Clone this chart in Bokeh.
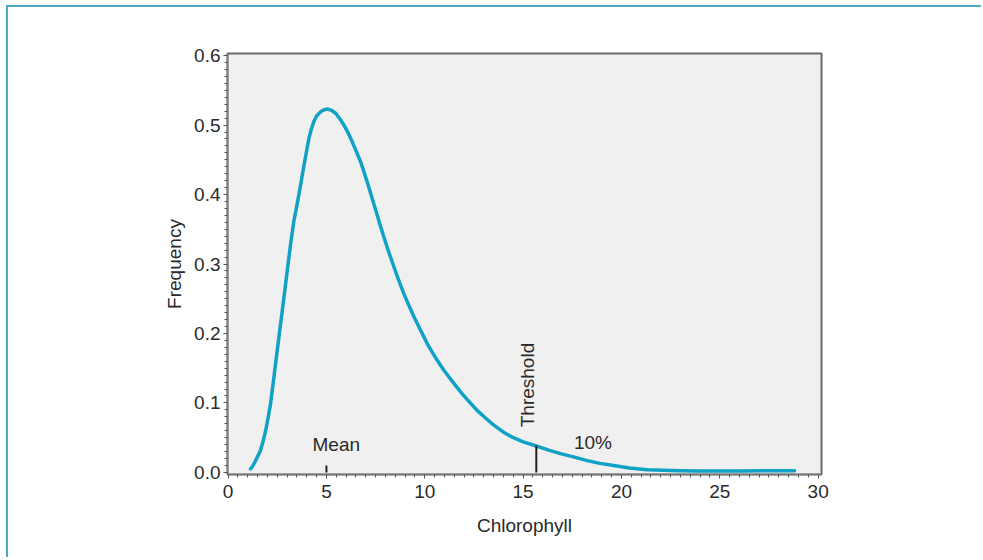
import numpy as np
from bokeh.plotting import figure
from bokeh.models import Range1d, FixedTicker, Label, CustomJSTickFormatter
from bokeh.embed import file_html
from bokeh.resources import INLINE

# ---- data ----
chl = [1.14, 1.27, 1.40, 1.52, 1.65, 1.78, 1.91, 2.03, 2.16, 2.33, 2.50, 2.67,
       2.84, 3.01, 3.18, 3.35, 3.47, 3.58, 3.69, 3.79, 3.89, 4.11, 4.23, 4.36,
       4.50, 4.70, 4.88, 5.07, 5.27, 5.47, 5.68, 5.89, 6.10, 6.31, 6.52, 6.74,
       6.95, 7.16, 7.33, 7.50, 7.71, 7.92, 8.17, 8.43, 8.68, 8.94, 9.20, 9.45,
       9.80, 10.13, 10.55, 10.97, 11.40, 11.82, 12.25, 12.67, 13.10, 13.51,
       13.95, 14.36, 15.00, 15.67, 16.30, 16.90, 17.60, 18.26, 18.90, 19.60,
       20.40, 21.30, 22.10, 23.00, 24.00, 26.00, 28.80]
freq = [0.005, 0.010, 0.017, 0.024, 0.032, 0.045, 0.060, 0.078, 0.099, 0.137,
        0.176, 0.214, 0.252, 0.291, 0.329, 0.363, 0.380, 0.397, 0.414, 0.431,
        0.447, 0.481, 0.494, 0.505, 0.513, 0.519, 0.522, 0.523, 0.521, 0.517,
        0.509, 0.500, 0.489, 0.476, 0.462, 0.447, 0.429, 0.410, 0.394, 0.378,
        0.358, 0.339, 0.317, 0.296, 0.276, 0.257, 0.240, 0.224, 0.204, 0.185,
        0.165, 0.147, 0.131, 0.116, 0.102, 0.089, 0.078, 0.068, 0.059, 0.052,
        0.044, 0.038, 0.032, 0.027, 0.022, 0.017, 0.013, 0.010, 0.0065, 0.004,
        0.003, 0.0024, 0.002, 0.0022, 0.0024]

mean_x = 5.0
mean_y = [0.0, 0.01]
threshold_x = 15.67
threshold_y = [0.0, 0.039]

x_ticks = [0, 5, 10, 15, 20, 25, 30]
y_ticks = [0.0, 0.1, 0.2, 0.3, 0.4, 0.5, 0.6]
x_label = "Chlorophyll"
y_label = "Frequency"

FONT = "Liberation Sans"
TEAL = "#10a2c6"
TXT = "#2a2a2a"
FS = "19px"

p = figure(width=975, height=552, output_backend="svg", toolbar_location=None,
           x_range=Range1d(-0.03, 30.17), y_range=Range1d(-0.003, 0.603),
           min_border_left=219, min_border_right=162, min_border_top=46,
           min_border_bottom=85)

p.background_fill_color = "#f0f0f0"
p.border_fill_color = "white"
p.outline_line_color = "#6a6a6a"
p.outline_line_width = 2
p.grid.visible = False

p.line(chl, freq, line_color=TEAL, line_width=3.5, line_cap="round", line_join="round")
p.line([mean_x, mean_x], mean_y, line_color="#222222", line_width=2)
p.line([threshold_x, threshold_x], threshold_y, line_color="#222222", line_width=2)

p.add_layout(Label(x=5.5, y=0.040, text="Mean", text_align="center",
                   text_baseline="alphabetic", text_font=FONT,
                   text_font_size=FS, text_color=TXT))
p.add_layout(Label(x=18.55, y=0.043, text="10%", text_align="center",
                   text_baseline="alphabetic", text_font=FONT,
                   text_font_size=FS, text_color=TXT))
p.add_layout(Label(x=15.22, y=0.065, text="Threshold", angle=np.pi / 2,
                   text_align="left", text_baseline="middle", text_font=FONT,
                   text_font_size=FS, text_color=TXT))

p.xaxis.ticker = FixedTicker(ticks=x_ticks,
                             minor_ticks=[i * 0.5 for i in range(0, 61)])
p.yaxis.ticker = FixedTicker(ticks=y_ticks,
                             minor_ticks=[i * 0.01 for i in range(0, 61)])
p.xaxis.axis_label = x_label
p.yaxis.axis_label = y_label

for ax in (p.xaxis, p.yaxis):
    ax.axis_line_color = "#7a7a7a"
    ax.axis_line_width = 1.5
    ax.major_tick_line_color = "#555555"
    ax.minor_tick_line_color = "#555555"
    ax.major_tick_in = 0
    ax.major_tick_out = 4
    ax.minor_tick_in = 0
    ax.minor_tick_out = 3
    ax.major_label_text_font = FONT
    ax.major_label_text_font_size = FS
    ax.major_label_text_color = TXT
    ax.axis_label_text_font = FONT
    ax.axis_label_text_font_size = FS
    ax.axis_label_text_font_style = "normal"
    ax.axis_label_text_color = TXT

p.yaxis.formatter = CustomJSTickFormatter(code="return tick.toFixed(1);")
p.xaxis.major_label_standoff = 6
p.yaxis.major_label_standoff = 3
p.xaxis.axis_label_standoff = 14
p.yaxis.axis_label_standoff = 6

# teal page frame along the top and left edges only (offset shadow)
p.styles = {"margin-left": "8px", "margin-top": "7px",
            "box-shadow": "-2px -2px 0px 0px #4fa9c2"}

open("out.html", "w").write(file_html(p, INLINE))
